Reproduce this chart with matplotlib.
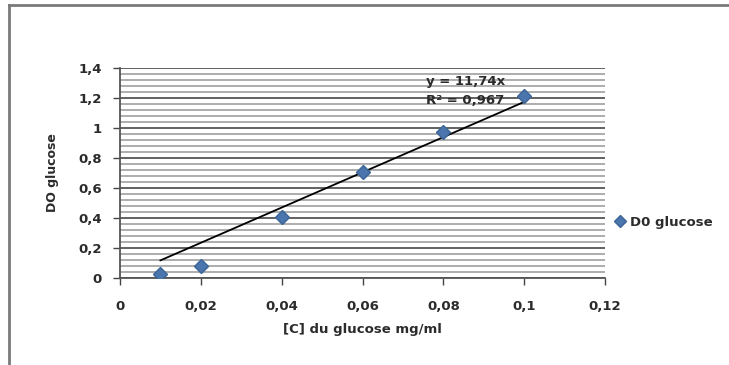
import matplotlib
matplotlib.use("Agg")
import matplotlib.pyplot as plt
from matplotlib.lines import Line2D
from matplotlib.ticker import MultipleLocator, FuncFormatter
import numpy as np

# Data
conc = [0.01, 0.02, 0.04, 0.06, 0.08, 0.10]
do_glucose = [0.03, 0.08, 0.41, 0.71, 0.975, 1.215]
slope = 11.74
eq_text = "y = 11,74x"
r2_text = "R² = 0,967"
series_name = "D0 glucose"
xlabel = "[C] du glucose mg/ml"
ylabel = "DO glucose"
xticks = [0, 0.02, 0.04, 0.06, 0.08, 0.10, 0.12]
yticks = [0, 0.2, 0.4, 0.6, 0.8, 1.0, 1.2, 1.4]

plt.rcParams['font.family'] = ['DejaVu Sans']
FS = 9.5
W = 'bold'
TC = '#2b2b2b'

fig = plt.figure(figsize=(7.29, 3.65), dpi=100)
ax = fig.add_axes([120/729, 1-278/365, 485/729, 210/365])

ax.set_xlim(0, 0.12)
ax.set_ylim(0, 1.4)

# gridlines
ax.yaxis.set_minor_locator(MultipleLocator(0.04))
ax.grid(which='minor', axis='y', color='#a0a0a0', lw=1.2)
ax.grid(which='major', axis='y', color='#555555', lw=1.3)
ax.set_axisbelow(True)

def fmt(v, pos):
    s = f"{v:.2f}".rstrip('0').rstrip('.')
    return s.replace('.', ',')

ax.set_xticks(xticks)
ax.set_yticks(yticks)
ax.xaxis.set_major_formatter(FuncFormatter(fmt))
ax.yaxis.set_major_formatter(FuncFormatter(fmt))
ax.tick_params(axis='both', which='major', labelsize=FS, colors='#444444',
               direction='out', length=5, width=1, labelcolor=TC)
ax.tick_params(axis='y', which='minor', length=0)
ax.tick_params(axis='x', pad=11)
ax.tick_params(axis='y', pad=8)
for t in ax.get_xticklabels() + ax.get_yticklabels():
    t.set_fontweight(W)

for s in ['top', 'right']:
    ax.spines[s].set_visible(False)
for s in ['left', 'bottom']:
    ax.spines[s].set_color('#555555')
    ax.spines[s].set_linewidth(1.3)

# trendline across the data range
xs = np.array([min(conc), max(conc)])
ax.plot(xs, slope * xs, color='black', lw=1.3, zorder=3)

ax.plot(conc, do_glucose, linestyle='none', marker='D', markersize=7.5,
        color='#4a76ad', markeredgecolor='#3d6597', zorder=4, label=series_name)

ax.text(0.0855, 1.31, eq_text, ha='center', va='center', fontsize=FS,
        fontweight=W, color=TC, zorder=5)
ax.text(0.0855, 1.18, r2_text, ha='center', va='center', fontsize=FS,
        fontweight=W, color=TC, zorder=5)

ax.set_xlabel(xlabel, fontsize=FS, fontweight='bold', labelpad=7, color=TC)
ax.set_ylabel(ylabel, fontsize=9, fontweight='bold', labelpad=14, color=TC)

leg = fig.legend(loc='center left', bbox_to_anchor=(602/729, 1-222/365), frameon=False,
                 fontsize=FS, handletextpad=0.25, handlelength=1.0, markerscale=0.8)
for t in leg.get_texts():
    t.set_fontweight(W)
    t.set_color(TC)

# outer chart frame (only left and top edges visible)
x0, y0 = 9/729, 1 - 5/365
fig.add_artist(Line2D([x0, 1.0], [y0, y0], transform=fig.transFigure,
                      color='#7a7a7a', lw=2.0))
fig.add_artist(Line2D([x0, x0], [0.0, y0], transform=fig.transFigure,
                      color='#7a7a7a', lw=2.0))

fig.savefig("out.png", dpi=100)
